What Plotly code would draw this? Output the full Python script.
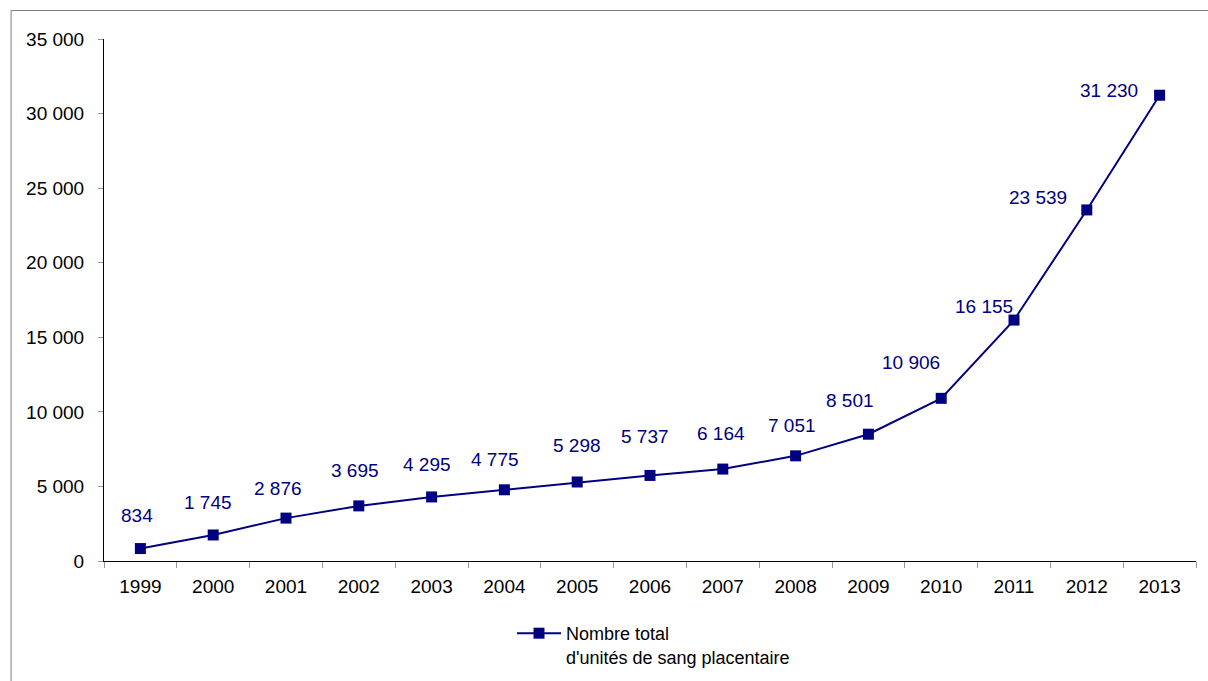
import plotly.graph_objects as go

years = ["1999", "2000", "2001", "2002", "2003", "2004", "2005", "2006",
         "2007", "2008", "2009", "2010", "2011", "2012", "2013"]
values = [834, 1745, 2876, 3695, 4295, 4775, 5298, 5737,
          6164, 7051, 8501, 10906, 16155, 23539, 31230]
series_name = "Nombre total<br>d'unités de sang placentaire"

# label offsets in pixels (style only)
label_dx = [-3, -5, -8, -4, -5, -9, 0, -5, -2, -4, -18, -30, -30, -49, -51]
label_dy = [33, 32, 30, 35, 32, 30, 36, 39, 36, 30, 34, 36, 14, 12, 5]

NAVY = "#000080"
FONT = "Liberation Sans, Arial, sans-serif"

W, H = 1208, 681
ml, mr, mt, mb = 103.5, 11.5, 39, 120
pw, ph = W - ml - mr, H - mt - mb

fig = go.Figure()
fig.add_trace(go.Scatter(
    x=years, y=values, mode="lines+markers", name=series_name,
    line=dict(color=NAVY, width=2),
    marker=dict(symbol="square", size=11, color=NAVY),
    hoverinfo="skip",
))

def fmt(v):
    return f"{v:,}".replace(",", " ")

annotations = []
for i, (v, dx, dy) in enumerate(zip(values, label_dx, label_dy)):
    annotations.append(dict(
        x=i, y=v, xref="x", yref="y", text=fmt(v), showarrow=False,
        xshift=dx, yshift=dy, font=dict(family=FONT, size=19, color=NAVY),
    ))

fig.update_layout(
    width=W, height=H,
    margin=dict(l=ml, r=mr, t=mt, b=mb, pad=0, autoexpand=False),
    paper_bgcolor="white", plot_bgcolor="white",
    separators=", ",
    font=dict(family=FONT, size=19, color="black"),
    showlegend=True,
    legend=dict(
        xref="container", yref="container",
        x=512 / W, y=1 - 615 / H, xanchor="left", yanchor="top",
        font=dict(family=FONT, size=18, color="black"),
        valign="top", bgcolor="rgba(0,0,0,0)", borderwidth=0,
        itemwidth=44,
    ),
    annotations=annotations,
    shapes=[dict(
        type="rect", xref="paper", yref="paper", layer="below",
        x0=(10.5 - ml) / pw, x1=(W + 20 - ml) / pw,
        y0=-(H + 20 - (H - mb)) / ph, y1=(H - mb - 10.5) / ph,
        line=dict(color="#808080", width=1), fillcolor="rgba(0,0,0,0)",
    )],
    xaxis=dict(
        type="category", range=[-0.5, len(years) - 0.5],
        showline=True, linecolor="black", linewidth=1,
        ticks="outside", tickson="boundaries", ticklen=6, tickcolor="#999999",
        showgrid=False, zeroline=False, fixedrange=True,
        tickfont=dict(family=FONT, size=19, color="black"),
        ticklabelstandoff=8,
    ),
    yaxis=dict(
        range=[0, 35000], dtick=5000, tickformat=",d",
        showline=True, linecolor="black", linewidth=1,
        ticks="outside", ticklen=5, tickcolor="#999999",
        showgrid=False, zeroline=False, fixedrange=True,
        tickfont=dict(family=FONT, size=19, color="black"),
        ticklabelstandoff=10,
    ),
)

fig.write_html("out.html", config={"displayModeBar": False})
